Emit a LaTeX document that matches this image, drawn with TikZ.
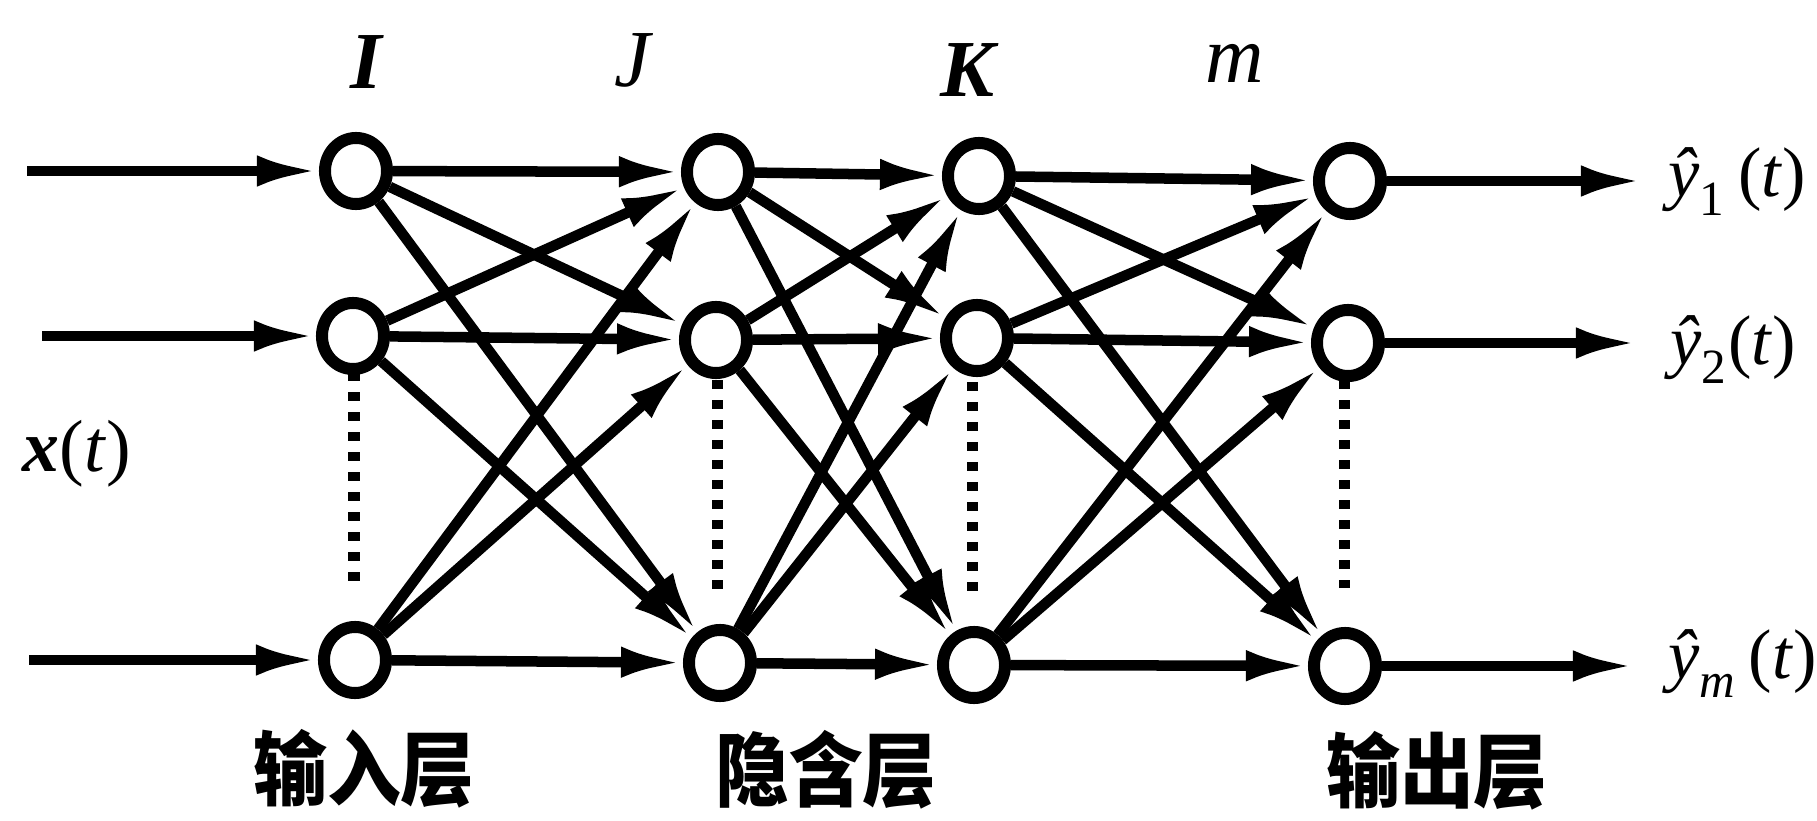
\documentclass[tikz,border=0pt]{standalone}
\usepackage{fontspec}
\usepackage{graphicx}
\setmainfont{Liberation Serif}
\newfontfamily\cjk{Noto Sans CJK SC}
\usetikzlibrary{arrows.meta,shapes.geometric}
\newcommand{\lowsub}[1]{\raisebox{-0.12em}{\textsubscript{#1}}}
\begin{document}
\begin{tikzpicture}[x=0.01cm,y=-0.01cm,
  neuron/.style={draw, ellipse, line width=0.12cm, minimum width=0.62cm, minimum height=0.66cm, inner sep=0pt},
  conn/.style={line width=0.105cm, -{Latex[length=0.62cm,width=0.31cm]}},
  dotline/.style={line width=0.11cm, dash pattern=on 0.09cm off 0.11cm},
  lay/.style={font=\fontsize{23}{25}\selectfont\itshape, inner sep=0pt, anchor=base},
  outl/.style={font=\fontsize{20}{22}\selectfont, inner sep=0pt, anchor=base west},
  cn/.style={font=\cjk\bfseries\fontsize{21}{23}\selectfont, inner sep=0pt}
]
\useasboundingbox (0,0) rectangle (1817,821);

% neurons
\node[neuron] (i1) at (356,171) {};
\node[neuron] (i2) at (353,336) {};
\node[neuron] (i3) at (355,660) {};
\node[neuron] (j1) at (718,172) {};
\node[neuron] (j2) at (716,340) {};
\node[neuron] (j3) at (720,663) {};
\node[neuron] (k1) at (979,176) {};
\node[neuron] (k2) at (977,338) {};
\node[neuron] (k3) at (974,665) {};
\node[neuron] (m1) at (1350,181) {};
\node[neuron] (m2) at (1348,343) {};
\node[neuron] (m3) at (1345,666) {};

% input / output free ends
\coordinate (in1) at (27,171);
\coordinate (in2) at (42,336);
\coordinate (in3) at (29,660);
\coordinate (out1) at (1643,181);
\coordinate (out2) at (1638,343);
\coordinate (out3) at (1635,666);

\draw[conn] (in1) -- (i1);
\draw[conn] (in2) -- (i2);
\draw[conn] (in3) -- (i3);
\draw[conn] (m1) -- (out1);
\draw[conn] (m2) -- (out2);
\draw[conn] (m3) -- (out3);

\foreach \a in {i1,i2,i3}{\foreach \b in {j1,j2,j3}{\draw[conn] (\a) -- (\b);}}
\foreach \a in {j1,j2,j3}{\foreach \b in {k1,k2,k3}{\draw[conn] (\a) -- (\b);}}
\foreach \a in {k1,k2,k3}{\foreach \b in {m1,m2,m3}{\draw[conn] (\a) -- (\b);}}

% dotted ellipses between row 2 and row m
\coordinate (d1a) at (354,372); \coordinate (d1b) at (354,585);
\coordinate (d2a) at (717,380); \coordinate (d2b) at (717,590);
\coordinate (d3a) at (972,382); \coordinate (d3b) at (972,592);
\coordinate (d4a) at (1344,380); \coordinate (d4b) at (1344,588);
\draw[dotline] (d1a) -- (d1b);
\draw[dotline] (d2a) -- (d2b);
\draw[dotline] (d3a) -- (d3b);
\draw[dotline] (d4a) -- (d4b);

% layer size labels
\node[lay, font=\fontsize{23}{25}\selectfont\bfseries\itshape] (lI) at (366,88) {I};
\node[lay] (lJ) at (632,87) {J};
\node[lay, font=\fontsize{23}{25}\selectfont\bfseries\itshape] (lK) at (967,97) {K};
\node[lay] (lm) at (1235,83) {m};

% input label
\node[font=\fontsize{21}{23}\selectfont, inner sep=0pt, anchor=base west] (xt) at (22,471)
  {\textbf{\textit{x}}(\textit{t})};

% output labels
\node[outl] (y1) at (1668,196) {\textit{ŷ}\lowsub{1}\,(\textit{t})};
\node[outl] (y2) at (1670,364) {\textit{ŷ}\lowsub{2}(\textit{t})};
\node[outl] (y3) at (1668,678) {\textit{ŷ}\lowsub{\textit{m}}\,(\textit{t})};

% layer names
\node[cn] (n1) at (364,769) {\scalebox{1}[1.1]{输入层}};
\node[cn] (n2) at (826,770) {\scalebox{1}[1.1]{隐含层}};
\node[cn] (n3) at (1437,771) {\scalebox{1}[1.1]{输出层}};
\end{tikzpicture}
\end{document}
